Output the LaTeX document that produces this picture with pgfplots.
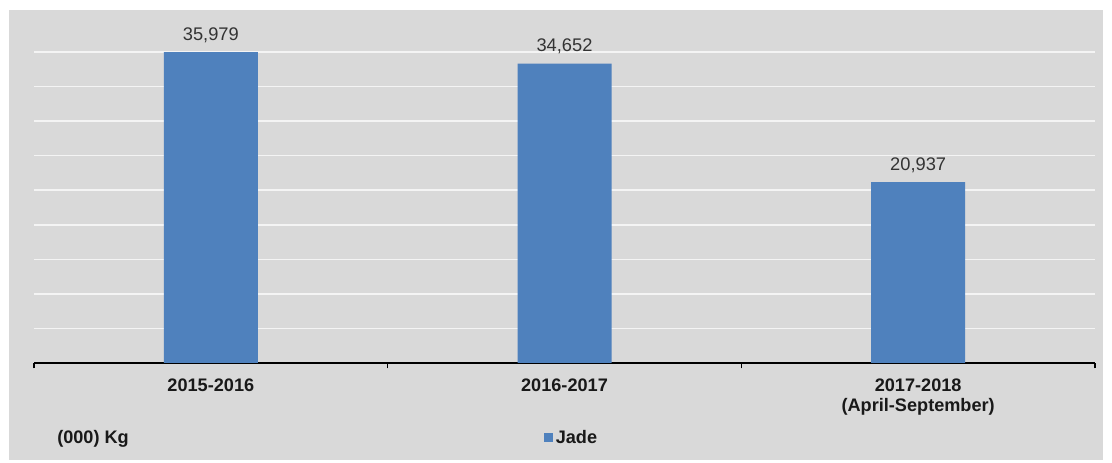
\documentclass[border=0pt]{standalone}
\usepackage{fontspec}
\setmainfont{Liberation Sans}
\usepackage{pgfplots}
\pgfplotsset{compat=1.18}
\definecolor{bg}{HTML}{D9D9D9}
\definecolor{barblue}{HTML}{4F81BD}
\definecolor{gridwhite}{HTML}{F4F4F4}
\definecolor{valtext}{HTML}{333333}
\begin{document}
\begin{tikzpicture}
\fill[white] (-25.5pt,-75pt) rectangle (808.5pt,272.25pt);
\fill[bg] (-18.75pt,-72.75pt) rectangle (801.75pt,264.75pt);
\begin{axis}[
  at={(0,0)}, anchor=south west,
  scale only axis, width=795.75pt, height=233.25pt,
  xmin=-0.5, xmax=2.5, ymin=0, ymax=36000,
  clip=false, scaled y ticks=false,
  axis x line*=bottom, axis y line*=left,
  x axis line style={black, line width=1.4pt, -},
  y axis line style={draw=none},
  ytick={0,4000,...,36000}, yticklabels={}, ytick style={draw=none},
  ymajorgrids=true, xmajorgrids=false,
  y grid style={color=gridwhite, line width=1.1pt},
  xtick={0,1,2},
  xticklabels={2015-2016,2016-2017,{2017-2018\\(April-September)}},
  xtick style={black, line width=0.8pt},
  major tick length=0pt,
  xticklabel style={align=center, anchor=north, inner sep=0pt, yshift=-12pt,
    font=\fontsize{13.6pt}{15pt}\selectfont\bfseries, text=black!90},
  extra x ticks={-0.5,0.5,1.5,2.5}, extra x tick labels={},
  extra x tick style={tick align=outside, major tick length=4pt},
  ybar, bar width=70.5pt,
  nodes near coords={\pgfmathprintnumber[assume math mode=true]{\pgfplotspointmeta}},
  every node near coord/.append style={anchor=base, yshift=9pt,
    font=\fontsize{13.7pt}{15pt}\selectfont, text=valtext},
  legend style={at={(0.507,-0.241)}, anchor=center, draw=none, fill=none,
    font=\fontsize{13.6pt}{15pt}\selectfont\bfseries, text=black!90,
    inner sep=0pt, /tikz/every even column/.append style={column sep=2pt}},
  legend image code/.code={\fill[#1] (0pt,-3.4pt) rectangle (6.8pt,3.4pt);},
]
\addplot[fill=barblue, draw=none] coordinates {(0,35979) (1,34652) (2,20937)};
\addlegendentry{Jade}
\node[anchor=west, inner sep=0pt, font=\fontsize{13.6pt}{15pt}\selectfont\bfseries, text=black!90]
  at (axis description cs:0.0217,-0.243) {(000) Kg};
\end{axis}
\end{tikzpicture}
\end{document}
